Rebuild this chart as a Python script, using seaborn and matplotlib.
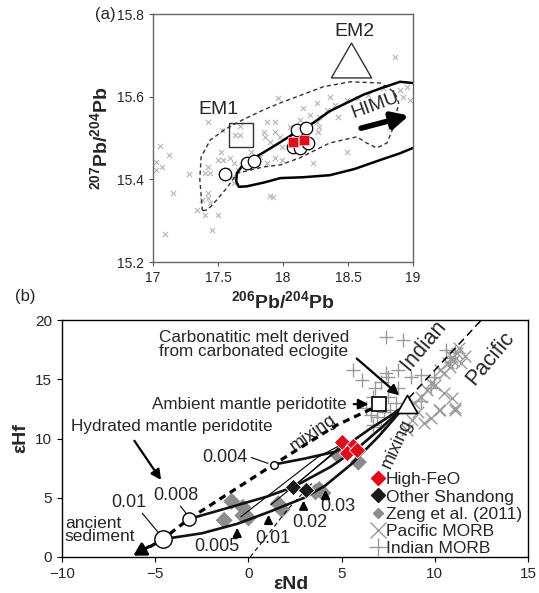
import matplotlib
matplotlib.use("Agg")
import matplotlib.pyplot as plt
from matplotlib.lines import Line2D
import seaborn as sns

sns.set_style("ticks")
plt.rcParams.update({
    'font.family': ['Liberation Sans', 'DejaVu Sans'],
    'mathtext.fontset': 'custom',
    'mathtext.rm': 'Liberation Sans',
    'mathtext.bf': 'Liberation Sans:bold',
    'xtick.direction': 'out',
    'ytick.direction': 'out',
})

# ---------------- panel (a) data : Pb isotopes ----------------
pb_grey_x = [17.96, 17.42, 17.53, 17.67, 17.63, 17.67, 17.88, 17.94, 17.85, 17.94,
             17.86, 17.98, 17.90, 17.99, 17.05, 17.12, 17.02, 17.07, 17.02, 17.52,
             17.54, 17.59, 17.50, 17.62, 17.57, 17.65, 17.94, 17.88, 17.99, 17.28,
             17.40, 17.44, 17.42, 17.61, 17.62, 17.15, 17.90, 17.42, 17.42, 17.44,
             17.34, 17.40, 17.50, 17.45, 17.09, 17.38, 18.86, 18.15, 18.26, 18.36,
             18.40, 18.49, 18.58, 18.65, 18.77, 18.90, 18.95, 18.92, 18.98, 18.28,
             18.34, 18.21, 18.13, 18.05, 18.26, 18.28, 18.27, 18.42, 18.62, 18.82,
             18.23, 17.92, 18.49, 17.82, 17.75]
pb_grey_y = [15.597, 15.539, 15.519, 15.529, 15.507, 15.507, 15.539, 15.539, 15.515, 15.515,
             15.502, 15.502, 15.490, 15.478, 15.481, 15.459, 15.442, 15.430, 15.423, 15.466,
             15.447, 15.452, 15.447, 15.440, 15.423, 15.423, 15.452, 15.440, 15.447, 15.413,
             15.415, 15.415, 15.430, 15.406, 15.391, 15.367, 15.360, 15.367, 15.355, 15.343,
             15.326, 15.314, 15.314, 15.277, 15.268, 15.350, 15.696, 15.573, 15.585, 15.599,
             15.580, 15.592, 15.597, 15.604, 15.621, 15.616, 15.623, 15.599, 15.592, 15.551,
             15.568, 15.556, 15.544, 15.527, 15.539, 15.527, 15.515, 15.551, 15.527, 15.527,
             15.440, 15.357, 15.466, 15.454, 15.466]

pb_circ_x = [17.55, 17.72, 17.78, 18.11, 18.18, 18.08, 18.13, 18.19]
pb_circ_y = [15.413, 15.440, 15.445, 15.520, 15.524, 15.479, 15.476, 15.488]
pb_red_x = [18.08, 18.16]
pb_red_y = [15.490, 15.495]

# outline of the field (solid) and dashed field
solid_x = [19.0, 18.9, 18.75, 18.62, 18.49, 18.36, 18.23, 18.13, 17.98, 17.85, 17.75,
           17.68, 17.645, 17.64, 17.66, 17.72, 17.85, 17.98, 18.15, 18.36, 18.55, 18.75,
           18.9, 19.0]
solid_y = [15.633, 15.636, 15.620, 15.605, 15.585, 15.565, 15.536, 15.520, 15.490, 15.465,
           15.447, 15.430, 15.415, 15.395, 15.382, 15.383, 15.392, 15.403, 15.405, 15.410,
           15.425, 15.447, 15.463, 15.476]
dash_x = [17.38, 17.36, 17.37, 17.44, 17.56, 17.69, 17.85, 17.98, 18.15, 18.31, 18.52,
          18.75, 18.86, 18.89, 18.85, 18.80, 18.72, 18.63, 18.57, 18.36, 18.13, 17.98,
          17.85, 17.65, 17.57, 17.49, 17.42, 17.38]
dash_y = [15.324, 15.40, 15.454, 15.495, 15.522, 15.544, 15.568, 15.585, 15.605, 15.624,
          15.636, 15.633, 15.610, 15.585, 15.527, 15.488, 15.476, 15.490, 15.503, 15.488,
          15.452, 15.435, 15.430, 15.415, 15.380, 15.350, 15.326, 15.324]

# ---------------- panel (b) data : Nd-Hf ----------------
highfeo_nd = [5.0, 5.6, 5.3, 5.8]
highfeo_hf = [9.7, 9.4, 8.8, 9.0]
shandong_nd = [2.4, 3.1]
shandong_hf = [5.9, 5.65]
zeng_nd = [-0.9, -0.3, -1.3, 0.0, -0.3, 1.8, 1.6, 3.8, 4.0, 4.8, 5.9, 3.6]
zeng_hf = [4.7, 4.2, 3.1, 3.3, 3.5, 4.0, 4.5, 5.7, 5.4, 8.6, 8.0, 5.5]
pac_nd = [10.9, 10.3, 11.1, 9.8, 10.5, 11.1, 10.2, 9.4, 8.8, 8.5, 9.8, 10.0, 9.6, 8.9,
          9.25, 10.9, 11.2, 11.0, 11.4, 10.7, 11.3, 10.3, 10.5, 9.1, 11.6, 10.8]
pac_hf = [13.4, 12.4, 12.6, 11.7, 13.8, 12.4, 12.4, 11.3, 11.6, 10.7, 14.7, 14.5, 14.1, 13.0,
          13.5, 16.9, 17.2, 16.5, 16.4, 16.4, 17.6, 15.8, 15.5, 12.2, 17.0, 16.0]
ind_nd = [7.37, 8.28, 5.6, 6.1, 6.8, 7.37, 7.5, 7.1, 8.0, 8.7, 9.25, 8.0, 6.67, 7.5,
          6.56, 6.9, 7.26, 6.67, 7.1, 7.6, 9.95, 9.8, 9.25, 10.8, 11.1, 10.6, 7.9, 6.3]
ind_hf = [18.6, 18.3, 15.8, 14.9, 14.3, 15.5, 15.2, 14.8, 14.3, 15.2, 15.4, 15.8, 13.5, 13.5,
          12.0, 11.8, 12.2, 11.1, 11.0, 12.4, 15.2, 14.3, 13.2, 16.8, 17.3, 17.5, 13.0, 12.6]

# end-members and mixing curves
amb_nd, amb_hf = 7.0, 12.9
carb_nd, carb_hf = 8.5, 12.9
sed_circ_nd = [1.35, -3.2, -4.6]
sed_circ_hf = [7.8, 3.2, 1.5]
sed_circ_size = [5.5, 9.5, 12.5]
mix_nd = [6.6, 4.7, 1.35, -3.2, -4.6, -5.3]
mix_hf = [12.5, 11.1, 7.8, 3.2, 1.5, 0.85]
curve_a_nd = [1.35, 3.0, 4.7, 5.6, 6.6, 7.6, 8.5]
curve_a_hf = [7.8, 8.3, 8.9, 9.8, 10.9, 11.9, 12.9]
curve_b_nd = [-3.2, -1.2, 1.0, 2.4, 4.4, 5.8, 7.2, 8.5]
curve_b_hf = [3.2, 4.1, 5.1, 5.9, 7.6, 9.1, 11.0, 12.9]
curve_c_nd = [-4.6, -2.5, -0.6, 1.1, 3.0, 4.1, 5.5, 7.0, 8.5]
curve_c_hf = [1.5, 2.0, 2.8, 3.8, 5.0, 6.0, 7.8, 10.2, 12.9]
thin_lines = [([-0.4, 3.7, 5.0], [3.4, 8.4, 9.5]),
              ([1.2, 4.7], [4.4, 8.9]),
              ([2.4, 5.0], [5.9, 9.4])]
melt_mix_nd = [0.1, 2.1, 3.4]
melt_mix_hf = [0.0, 4.0, 6.2]
divider_nd = [8.6, 12.5]
divider_hf = [13.4, 20.0]
frac_labels = ["0.005", "0.01", "0.02", "0.03"]
frac_nd = [-0.6, 1.08, 2.96, 4.14]
frac_hf = [2.7, 3.8, 5.0, 5.9]

fig = plt.figure(figsize=(5.39, 5.93), dpi=100)
W, H = 539.0, 593.0

# closed equilateral triangle marker
tri = [(-1, -0.866), (1, -0.866), (0, 0.866), (-1, -0.866)]

# ================= panel (a) =================
axa = fig.add_axes([153 / W, 1 - 262 / H, 260 / W, 248 / H])
sns.scatterplot(x=pb_grey_x, y=pb_grey_y, marker='x', color='#b5b5b5', s=14,
                linewidth=0.8, ax=axa, zorder=1)
axa.plot(dash_x, dash_y, ls=(0, (3, 2.2)), color='#333333', lw=1.0, zorder=2)
axa.plot(solid_x, solid_y, color='black', lw=1.8, zorder=2)
axa.plot(pb_circ_x, pb_circ_y, 'o', ms=9, mfc='white', mec='black', mew=0.9, zorder=3)
axa.plot(pb_red_x, pb_red_y, 's', ms=7, mfc='#e30b17', mec='#f6b0b0', mew=0.6, zorder=4)
axa.plot([17.68], [15.507], 's', ms=17.5, mfc='none', mec='#333333', mew=1.0)
axa.plot([18.52], [15.688], marker=tri, ms=29, mfc='white', mec='#333333', mew=1.0,
         ls='', zorder=3)
axa.text(17.5, 15.568, "EM1", fontsize=14, ha='center', va='center')
axa.text(18.55, 15.757, "EM2", fontsize=14, ha='center', va='center')
axa.text(18.71, 15.578, "HIMU", fontsize=14, ha='center', va='center', rotation=20)
axa.annotate("", xy=(18.99, 15.556), xytext=(18.58, 15.522),
             arrowprops=dict(arrowstyle='-|>,head_width=0.35,head_length=0.7',
                             lw=4, color='black', mutation_scale=14))
axa.set_xlim(17, 19)
axa.set_ylim(15.2, 15.8)
axa.set_xticks([17, 17.5, 18, 18.5, 19])
axa.set_xticklabels(["17", "17.5", "18", "18.5", "19"])
axa.set_yticks([15.2, 15.4, 15.6, 15.8])
axa.tick_params(labelsize=10, length=3, color='#555555')
for sp in axa.spines.values():
    sp.set_visible(True)
    sp.set_color('#666666')
    sp.set_linewidth(1.0)
axa.set_xlabel(r'$\mathbf{^{206}Pb/^{204}Pb}$', fontsize=14)
axa.set_ylabel(r'$\mathbf{^{207}Pb/^{204}Pb}$', fontsize=14)

# ================= panel (b) =================
axb = fig.add_axes([62 / W, 1 - 557 / H, 466 / W, 237 / H])
sns.scatterplot(x=ind_nd, y=ind_hf, marker='+', color='#9a9a9a', s=110,
                linewidth=1.0, ax=axb, zorder=1)
sns.scatterplot(x=pac_nd, y=pac_hf, marker='x', color='#9a9a9a', s=70,
                linewidth=1.0, ax=axb, zorder=1)
sns.scatterplot(x=zeng_nd, y=zeng_hf, marker='D', color='#8c8c8c', s=75,
                edgecolor='none', ax=axb, zorder=2)

axb.plot(divider_nd, divider_hf, ls=(0, (5, 3)), color='black', lw=1.1, zorder=3)
axb.plot(melt_mix_nd, melt_mix_hf, ls=(0, (4, 3)), color='black', lw=0.8, zorder=3)
for lx, ly in thin_lines:
    axb.plot(lx, ly, color='black', lw=0.8, zorder=3)
for cx, cy in [(curve_a_nd, curve_a_hf), (curve_b_nd, curve_b_hf), (curve_c_nd, curve_c_hf)]:
    axb.plot(cx, cy, color='#111111', lw=1.9, zorder=4, solid_capstyle='round')
axb.plot(mix_nd, mix_hf, ls=(0, (2.2, 1.6)), color='black', lw=2.3, zorder=4)
axb.annotate("", xy=(-6.3, 0.0), xytext=(-5.2, 1.0),
             arrowprops=dict(arrowstyle='-|>,head_width=0.35,head_length=0.6',
                             lw=2.2, color='black', mutation_scale=12), zorder=5)

sns.scatterplot(x=shandong_nd, y=shandong_hf, marker='D', color='#1a1a1a', s=70,
                edgecolor='white', linewidth=0.6, ax=axb, zorder=6)
sns.scatterplot(x=highfeo_nd, y=highfeo_hf, marker='D', color='#e30b17', s=70,
                edgecolor='white', linewidth=0.6, ax=axb, zorder=6)
for cx, cy, cs in zip(sed_circ_nd, sed_circ_hf, sed_circ_size):
    axb.plot(cx, cy, 'o', ms=cs, mfc='white', mec='black', mew=1.0, zorder=7)
axb.plot(amb_nd, amb_hf, 's', ms=9.5, mfc='white', mec='black', mew=1.2, zorder=7)
axb.plot(carb_nd, carb_hf, marker=tri, ms=15, mfc='white', mec='black', mew=1.2,
         ls='', zorder=7)

fs_note = 12.3
arrow_kw = dict(arrowstyle='-|>,head_width=0.3,head_length=0.6', lw=1.6,
                color='black', mutation_scale=10)
axb.text(0.3, 17.9, "Carbonatitic melt derived\nfrom carbonated eclogite",
         fontsize=fs_note, ha='center', va='center', linespacing=0.9)
axb.annotate("", xy=(8.2, 13.5), xytext=(5.7, 16.9), arrowprops=arrow_kw)
axb.text(5.3, 12.9, "Ambient mantle peridotite", fontsize=fs_note, ha='right', va='center')
axb.annotate("", xy=(6.6, 12.9), xytext=(5.5, 12.9), arrowprops=arrow_kw)
axb.text(-9.5, 11.0, "Hydrated mantle peridotite", fontsize=fs_note, ha='left', va='center')
axb.annotate("", xy=(-4.6, 6.3), xytext=(-6.2, 10.0), arrowprops=arrow_kw)
axb.text(3.5, 10.5, "mixing", fontsize=13, ha='center', va='center', rotation=35)
axb.text(8.0, 9.6, "mixing", fontsize=13, ha='center', va='center', rotation=65)
axb.text(9.4, 17.9, "Indian", fontsize=15.5, ha='center', va='center', rotation=50)
axb.text(13.0, 16.8, "Pacific", fontsize=15.5, ha='center', va='center', rotation=50)

axb.text(-1.24, 8.4, "0.004", fontsize=13, ha='center', va='center')
axb.plot([0.15, 1.05], [8.4, 7.9], color='black', lw=0.8)
axb.text(-3.9, 5.2, "0.008", fontsize=13, ha='center', va='center')
axb.plot([-3.65, -3.3], [4.3, 3.6], color='black', lw=0.8)
axb.text(-6.4, 4.6, "0.01", fontsize=13, ha='center', va='center')
axb.plot([-5.7, -4.85], [3.7, 2.1], color='black', lw=0.8)
axb.text(-9.85, 2.3, "ancient\nsediment", fontsize=12.5, ha='left', va='center',
         linespacing=0.85)

frac_text_pos = [(-1.67, 0.85), (1.3, 1.6), (3.3, 2.95), (4.8, 4.3)]
for lab, fx, fy, (tx, ty) in zip(frac_labels, frac_nd, frac_hf, frac_text_pos):
    axb.text(tx, ty, lab, fontsize=13, ha='center', va='center')
    axb.annotate("", xy=(fx, fy), xytext=(fx, fy - 1.2),
                 arrowprops=dict(arrowstyle='-|>,head_width=0.25,head_length=0.5',
                                 lw=1.5, color='black', mutation_scale=10))

legend_handles = [
    Line2D([], [], marker='D', ls='', color='#e30b17', ms=7),
    Line2D([], [], marker='D', ls='', color='#1a1a1a', ms=7),
    Line2D([], [], marker='D', ls='', color='#8c8c8c', ms=5.5),
    Line2D([], [], marker='x', ls='', color='#9a9a9a', ms=11, mew=1.0),
    Line2D([], [], marker='+', ls='', color='#9a9a9a', ms=13, mew=1.0),
]
legend_labels = ["High-FeO", "Other Shandong", "Zeng et al. (2011)",
                 "Pacific MORB", "Indian MORB"]
axb.legend(legend_handles, legend_labels, loc='upper left',
           bbox_to_anchor=(0.667, 0.358), frameon=False, fontsize=12.5,
           handlelength=0.6, handletextpad=0.15, labelspacing=0.12,
           borderaxespad=0, borderpad=0)

axb.set_xlim(-10, 15)
axb.set_ylim(0, 20)
axb.set_xticks([-10, -5, 0, 5, 10, 15])
axb.set_yticks([0, 5, 10, 15, 20])
axb.tick_params(labelsize=11, length=3.5, color='black')
for sp in axb.spines.values():
    sp.set_visible(True)
    sp.set_color('black')
    sp.set_linewidth(1.0)
axb.set_xlabel("εNd", fontsize=14, fontweight='bold')
axb.xaxis.set_label_coords(0.491, -0.115)
axb.xaxis.label.set_va('center')
axb.set_ylabel("εHf", fontsize=14, fontweight='bold', labelpad=4)

fig.text(105 / W, 1 - 15 / H, "(a)", fontsize=12, ha='center', va='center')
fig.text(25 / W, 1 - 297 / H, "(b)", fontsize=12, ha='center', va='center')

fig.savefig("out.png", dpi=100)
